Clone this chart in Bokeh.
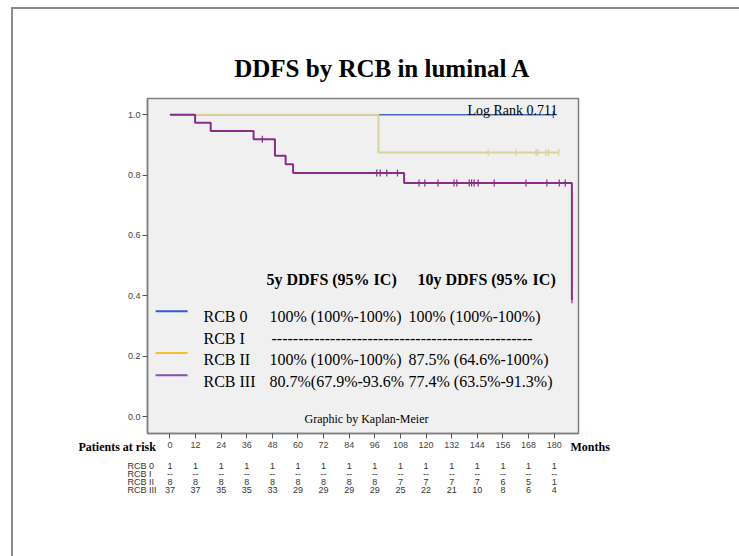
import numpy as np
from bokeh.plotting import figure
from bokeh.models import (Range1d, Label, FixedTicker, CustomJSTickFormatter, InlineStyleSheet)
from bokeh.embed import file_html
from bokeh.resources import INLINE

# ---------------- data ----------------
month_ticks = [0, 12, 24, 36, 48, 60, 72, 84, 96, 108, 120, 132, 144, 156, 168, 180]
surv_ticks = [0.0, 0.2, 0.4, 0.6, 0.8, 1.0]
groups = ["RCB 0", "RCB I", "RCB II", "RCB III"]

rcb0_times = [0.0, 179.6]
rcb0_surv = [1.0, 1.0]
rcb0_censor = [179.6]

rcb2_times = [0.0, 97.7, 182.1]
rcb2_surv = [1.0, 0.875, 0.875]
rcb2_censor = [149.1, 162.1, 171.5, 172.3, 176.2, 177.3, 182.1]

rcb3_times = [0.0, 11.8, 19.1, 39.2, 49.2, 54.2, 57.7, 109.7, 188.3]
rcb3_surv = [1.0, 0.973, 0.946, 0.919, 0.864, 0.836, 0.807, 0.774, 0.387]
rcb3_censor = [43.3, 96.9, 98.5, 101.6, 106.6, 116.7, 119.4, 125.6, 133.1, 134.4,
               140.2, 141.3, 142.5, 144.4, 151.9, 166.8, 176.6, 182.4, 185.2, 188.3]

risk_rcb0 = ["1", "1", "1", "1", "1", "1", "1", "1", "1", "1", "1", "1", "1", "1", "1", "1"]
risk_rcb1 = ["--", "--", "--", "--", "--", "--", "--", "--", "--", "--", "--", "--", "--", "--", "--", "--"]
risk_rcb2 = ["8", "8", "8", "8", "8", "8", "8", "8", "8", "7", "7", "7", "7", "6", "5", "1"]
risk_rcb3 = ["37", "37", "35", "35", "33", "29", "29", "29", "29", "25", "22", "21", "10", "8", "6", "4"]

five_year = ["100% (100%-100%)", "", "100% (100%-100%)", "80.7%(67.9%-93.6%"]
ten_year = ["100% (100%-100%)", "", "87.5% (64.6%-100%)", "77.4% (63.5%-91.3%)"]

# ---------------- styles ----------------
C_BLUE = "#4a68c8"
C_YELLOW = "#d8d39a"
C_PURPLE = "#8a2c8a"
L_BLUE = "#2e5ce6"
L_YELLOW = "#f3c22e"
L_PURPLE = "#8a4cb8"
SERIF = "Liberation Serif"
SANS = "Liberation Sans"

p = figure(width=739, height=556, output_backend="svg", toolbar_location=None,
           x_range=Range1d(-10.5, 191.4), y_range=Range1d(-0.0556, 1.0536),
           min_border_left=147, min_border_right=161, min_border_top=98,
           min_border_bottom=123)
p.background_fill_color = "#f0f0f0"
p.border_fill_color = "white"
p.outline_line_color = "#7f7f7f"
p.outline_line_width = 1.5
p.grid.visible = False
# page frame (left and top rules of the original figure box)
p.stylesheets = [InlineStyleSheet(css=(
    ":host { position: relative; }"
    ":host::after { content: ''; position: absolute; left: 11px; top: 7px; width: 728px;"
    " height: 549px; border-left: 2px solid #8c8c8c; border-top: 2px solid #8c8c8c;"
    " box-sizing: border-box; pointer-events: none; }"))]

for ax in (p.xaxis[0], p.yaxis[0]):
    ax.axis_line_color = "#7f7f7f"
    ax.axis_line_width = 1.5
    ax.major_tick_line_color = "#555555"
    ax.major_tick_out = 5
    ax.major_tick_in = 0
    ax.minor_tick_line_color = None
    ax.major_label_text_font = SANS
    ax.major_label_text_font_size = "9px"
    ax.major_label_text_color = "#444444"
p.xaxis.ticker = FixedTicker(ticks=month_ticks)
p.yaxis.ticker = FixedTicker(ticks=surv_ticks)
p.yaxis.formatter = CustomJSTickFormatter(code="return tick.toFixed(1);")
p.xaxis.major_label_standoff = 3
p.yaxis.major_label_standoff = 2


def level_at(times, surv, t):
    idx = [i for i, tt in enumerate(times) if tt <= t][-1]
    return surv[idx]


# curves
p.step(rcb0_times, rcb0_surv, mode="after", line_color=C_BLUE, line_width=1.6)
p.step(rcb2_times, rcb2_surv, mode="after", line_color=C_YELLOW, line_width=2)
p.step(rcb3_times, rcb3_surv, mode="after", line_color=C_PURPLE, line_width=2)

p.scatter(rcb0_censor, [level_at(rcb0_times, rcb0_surv, t) for t in rcb0_censor],
          marker="cross", size=7, line_color=C_BLUE, line_width=1.2)
p.scatter(rcb2_censor, [level_at(rcb2_times, rcb2_surv, t) for t in rcb2_censor],
          marker="dash", angle=np.pi / 2, size=7, line_color=C_YELLOW, line_width=1.2)
p.scatter(rcb3_censor, [level_at(rcb3_times, rcb3_surv, t) for t in rcb3_censor],
          marker="dash", angle=np.pi / 2, size=7, line_color=C_PURPLE, line_width=1.2)

# legend lines (inside frame)
x_to_data = lambda px: (px - 169.3) / 2.1333
y_to_data = lambda py: (416.5 - py) / 302.0
leg_y = [311, None, 352.7, 375]
leg_c = [L_BLUE, None, L_YELLOW, L_PURPLE]
for yy, cc in zip(leg_y, leg_c):
    if yy is None:
        continue
    p.line([x_to_data(155), x_to_data(187)], [y_to_data(yy), y_to_data(yy)],
           line_color=cc, line_width=2)


def lab(x, y, text, size, font=SERIF, bold=False, align="left", baseline="alphabetic",
        color="black", place=None, x_units="canvas", **kw):
    l = Label(x=x, y=y, x_units=x_units, y_units="canvas", text=text,
              text_font=font, text_font_size=size,
              text_font_style="bold" if bold else "normal",
              text_align=align, text_baseline=baseline, text_color=color, **kw)
    if place is None:
        p.add_layout(l)
    else:
        p.add_layout(l, place)


# texts inside the frame
lab(557, 109.5, "Log Rank 0.711", "14px", align="right")
lab(266, 279, "5y DDFS (95% IC)", "16px", bold=True)
lab(417, 279, "10y DDFS (95% IC)", "16px", bold=True)
row_base = [316, 337.5, 358.5, 380.5]
for g, yb in zip(groups, row_base):
    lab(203, yb, g, "16px")
lab(271, row_base[1], "-" * 49, "16px")
for i in (0, 2, 3):
    lab(269, row_base[i], five_year[i], "16px")
    lab(408, row_base[i], ten_year[i], "16px")
lab(366, 418, "Graphic by Kaplan-Meier", "12px", align="center")

# texts outside the frame live in the side panels (not clipped there)
lab(382, 68, "DDFS by RCB in luminal A", "25px", bold=True, align="center", place="above")
lab(570, 446, "Months", "12px", bold=True, baseline="middle", place="above")
lab(78, 446, "Patients at risk", "12px", bold=True, baseline="middle", place="left")
lab(127, 460, "\n".join(groups), "9px", font=SANS, baseline="top", color="#333333",
    place="left", text_line_height=0.8)
risk_rows = [risk_rcb0, risk_rcb1, risk_rcb2, risk_rcb3]
for k, m in enumerate(month_ticks):
    col = "\n".join(r[k] for r in risk_rows)
    place = "above" if k == 0 else ("below" if k < 3 else "right")
    lab(m, 460, col, "9px", font=SANS, align="center", baseline="top", color="#333333",
        place=place, x_units="data", text_line_height=0.8)

open("out.html", "w").write(file_html(p, INLINE))
